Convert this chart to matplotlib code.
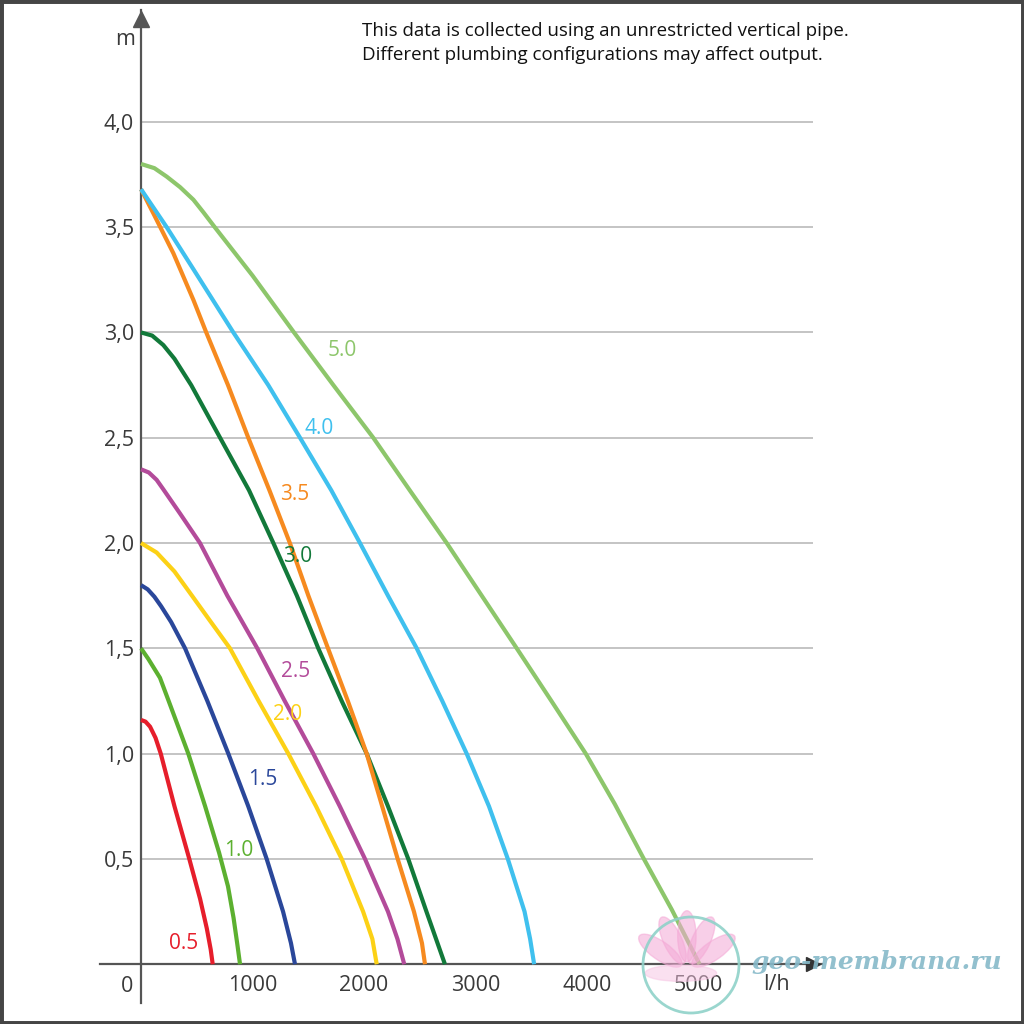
import matplotlib.pyplot as plt
from matplotlib.patches import Ellipse, Circle, Rectangle

# Pump curves: flow (l/h) vs head (m), one curve per model
q05 = [0, 40, 81, 130, 177, 300, 433, 530, 590, 625, 643]
h05 = [1.16, 1.152, 1.128, 1.075, 1.00, 0.75, 0.50, 0.31, 0.17, 0.07, 0]

q10 = [0, 65, 170, 248, 424, 575, 700, 780, 830, 865, 888]
h10 = [1.50, 1.45, 1.36, 1.25, 1.00, 0.75, 0.53, 0.37, 0.22, 0.09, 0]

q15 = [0, 60, 120, 180, 270, 395, 595, 783, 962, 1127, 1274, 1345, 1381]
h15 = [1.80, 1.78, 1.745, 1.70, 1.625, 1.50, 1.25, 1.00, 0.75, 0.50, 0.25, 0.10, 0]

q20 = [0, 140, 300, 457, 620, 798, 1055, 1321, 1570, 1800, 1992, 2075, 2114]
h20 = [2.00, 1.955, 1.865, 1.75, 1.63, 1.50, 1.25, 1.00, 0.75, 0.50, 0.25, 0.12, 0]

q25 = [0, 70, 140, 200, 350, 529, 774, 1043, 1289, 1545, 1783, 2009, 2215, 2300, 2361]
h25 = [2.35, 2.335, 2.30, 2.255, 2.14, 2.00, 1.75, 1.50, 1.25, 1.00, 0.75, 0.50, 0.25, 0.12, 0]

q30 = [0, 100, 200, 300, 450, 709, 969, 1187, 1398, 1590, 1800, 2024, 2215, 2397, 2560, 2726]
h30 = [3.00, 2.985, 2.94, 2.875, 2.75, 2.50, 2.25, 2.00, 1.75, 1.50, 1.25, 1.00, 0.75, 0.50, 0.25, 0]

q35 = [0, 110, 290, 470, 585, 780, 962, 1152, 1335, 1501, 1677, 1855, 2024, 2163,
       2302, 2448, 2520, 2547]
h35 = [3.68, 3.566, 3.376, 3.154, 3.00, 2.75, 2.50, 2.25, 2.00, 1.75, 1.50, 1.25, 1.00, 0.75,
       0.50, 0.25, 0.10, 0]

q40 = [0, 230, 470, 828, 1141, 1426, 1707, 1964, 2215, 2473, 2702, 2921, 3121, 3290,
       3440, 3490, 3526]
h40 = [3.68, 3.50, 3.30, 3.00, 2.75, 2.50, 2.25, 2.00, 1.75, 1.50, 1.25, 1.00, 0.75, 0.50,
       0.25, 0.12, 0]

q50 = [0, 120, 230, 350, 470, 560, 661, 1000, 1372, 1725, 2083, 2411, 2742, 3056, 3370,
       3681, 3989, 4250, 4500, 4760, 5010]
h50 = [3.80, 3.78, 3.74, 3.69, 3.63, 3.57, 3.50, 3.27, 3.00, 2.75, 2.50, 2.25, 2.00, 1.75,
       1.50, 1.25, 1.00, 0.76, 0.51, 0.26, 0]

names = ["0.5", "1.0", "1.5", "2.0", "2.5", "3.0", "3.5", "4.0", "5.0"]
flows = [q05, q10, q15, q20, q25, q30, q35, q40, q50]
heads = [h05, h10, h15, h20, h25, h30, h35, h40, h50]
colors = ["#e61e2b", "#5cb030", "#2a479a", "#fcd116", "#b34b9a",
          "#12793a", "#f68a1f", "#3fc0ee", "#8dc66b"]
# where each curve's name sits
label_q = [385, 875, 1090, 1315, 1385, 1405, 1375, 1600, 1805]
label_h = [0.10, 0.54, 0.875, 1.185, 1.39, 1.935, 2.23, 2.545, 2.915]

y_ticks = [0.5, 1.0, 1.5, 2.0, 2.5, 3.0, 3.5, 4.0]
y_ticklabels = ["0,5", "1,0", "1,5", "2,0", "2,5", "3,0", "3,5", "4,0"]
x_ticks = [1000, 2000, 3000, 4000, 5000]

plt.rcParams["font.family"] = ["Open Sans", "DejaVu Sans"]

fig = plt.figure(figsize=(10.24, 10.24), dpi=100)
ax = fig.add_axes([100 / 1024, 21 / 1024, 722 / 1024, 993 / 1024])
ax.set_xlim(-368, 6108)
ax.set_ylim(-0.184, 4.531)

axis_col = "#555555"
text_col = "#3a3a3a"

# axes crossing at the origin
for s in ["top", "right"]:
    ax.spines[s].set_visible(False)
ax.spines["left"].set_position(("data", 0))
ax.spines["bottom"].set_position(("data", 0))
for s in ["left", "bottom"]:
    ax.spines[s].set_color(axis_col)
    ax.spines[s].set_linewidth(1.6)
ax.plot([0], [4.49], "^", color=axis_col, markersize=11, clip_on=False, zorder=5)
ax.plot([6030], [0], ">", color="#333333", markersize=10, clip_on=False, zorder=5)

ax.set_yticks(y_ticks)
ax.set_yticklabels(y_ticklabels)
ax.set_xticks(x_ticks)
ax.tick_params(length=0, labelsize=15.5, colors=text_col)
ax.tick_params(axis="x", pad=8)
ax.tick_params(axis="y", pad=5)

ax.hlines(y_ticks, 0, 6030, color="#bfbfbf", lw=1.3, zorder=0)

ax.text(-125, -0.108, "0", ha="center", va="center", fontsize=15.5, color=text_col)
ax.text(-143, 4.39, "m", ha="center", va="center", fontsize=15.5, color=text_col)
ax.text(5700, -0.098, "l/h", ha="center", va="center", fontsize=15.5, color=text_col)

for q, h, c in zip(flows, heads, colors):
    ax.plot(q, h, color=c, lw=3, solid_capstyle="butt", solid_joinstyle="round", zorder=3)

for name, x, y, c in zip(names, label_q, label_h, colors):
    ax.text(x, y, name, color=c, fontsize=15, ha="center", va="center", zorder=4)

fig.text(362 / 1024, 1 - 31 / 1024, "This data is collected using an unrestricted vertical pipe.",
         fontsize=13.5, va="center", ha="left", color="#111111")
fig.text(362 / 1024, 1 - 55 / 1024, "Different plumbing configurations may affect output.",
         fontsize=13.5, va="center", ha="left", color="#111111")

# watermark
cx, cy = 691 / 1024, 1 - 965 / 1024
for ang, dx, dy in [(0, 0, 0.028), (25, -0.014, 0.024), (-25, 0.014, 0.024),
                    (55, -0.026, 0.014), (-55, 0.026, 0.014)]:
    fig.patches.append(Ellipse((cx - 0.004 + dx, cy + dy), 0.018, 0.05, angle=ang,
                               transform=fig.transFigure, color="#f4a9d6", alpha=0.55, zorder=6))
fig.patches.append(Ellipse((cx - 0.01, cy - 0.008), 0.07, 0.016, transform=fig.transFigure,
                           color="#f7c3e3", alpha=0.5, zorder=6))
fig.patches.append(Circle((cx, cy), 48 / 1024, transform=fig.transFigure, fill=False,
                          edgecolor="#8fd2c9", lw=2, alpha=0.9, zorder=7))
fig.text(877 / 1024, 1 - 962 / 1024, "geo-membrana.ru", fontsize=18, fontstyle="italic",
         fontweight="bold", family="DejaVu Serif", color="#86b9c9", alpha=0.9,
         ha="center", va="center", zorder=8)

# dark frame round the picture
fig.patches.append(Rectangle((0, 0), 1, 1, transform=fig.transFigure, fill=False,
                             edgecolor="#454545", lw=5, zorder=10))

fig.savefig("out.png", dpi=100)
